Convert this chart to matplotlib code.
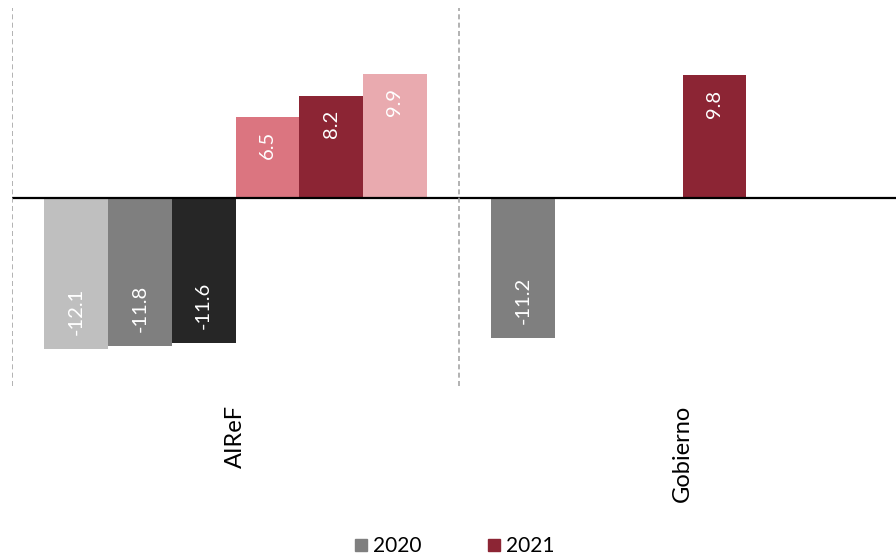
"""
Clustered bars: AIReF vs Gobierno estimates for 2020 and 2021.
"""

import matplotlib.pyplot as plt
from matplotlib.lines import Line2D

plt.rcParams["font.family"] = ["Lato", "DejaVu Sans"]

groups = ["AIReF", "Gobierno"]

# six series slots per group; None means no bar in that slot
series_values = [
    [-12.1, -11.2],   # 2020, escenario 1 / Gobierno
    [-11.8, None],    # 2020, escenario 2
    [-11.6, None],    # 2020, escenario 3
    [6.5, 9.8],       # 2021, escenario 1 / Gobierno
    [8.2, None],      # 2021, escenario 2
    [9.9, None],      # 2021, escenario 3
]
series_colors = [
    ["#BFBFBF", "#7F7F7F"],
    ["#7F7F7F", None],
    ["#262626", None],
    ["#DB7580", "#8C2534"],
    ["#8C2534", None],
    ["#E9AAAF", None],
]
legend_labels = ["2020", "2021"]
legend_colors = ["#7F7F7F", "#8C2534"]

fig = plt.figure(figsize=(8.96, 5.56), dpi=100)
ax = fig.add_axes([12 / 896, 1 - 385.5 / 556, 1 - 12 / 896, 377.5 / 556])

width = 0.1425
for k, (vals, cols) in enumerate(zip(series_values, series_colors)):
    for g, (v, c) in enumerate(zip(vals, cols)):
        if v is None:
            continue
        x = g + (k - 2.5) * width
        ax.bar(x, v, width=width, color=c, linewidth=0)
        off = 10 if v < 0 else -10
        ax.annotate(f"{v:.1f}", (x, v), xytext=(0, off),
                    textcoords="offset points", rotation=90,
                    ha="center", va="bottom" if v < 0 else "top",
                    color="white", fontsize=14.5)

ax.axhline(0, color="black", linewidth=1.6)
for xs in [-0.5, 0.5, 1.5]:
    ax.axvline(xs, color="#A6A6A6", linestyle=(0, (3, 2)), linewidth=1.2)

ax.set_xlim(-0.5, 0.5 + 437 / 447)
ax.set_ylim(-15, 15.2)
ax.axis("off")

for g, name in enumerate(groups):
    ax.annotate(name, (g, -15), xytext=(0, -14), textcoords="offset points",
                rotation=90, ha="center", va="top", fontsize=17)

handles = [Line2D([], [], marker="s", linestyle="none", markersize=8,
                  markerfacecolor=c, markeredgecolor=c) for c in legend_colors]
fig.legend(handles, legend_labels, loc="center", bbox_to_anchor=(0.505, 0.018),
           ncol=2, frameon=False, fontsize=15, handletextpad=0.05,
           columnspacing=3.0, handlelength=1.0)

fig.savefig("out.png", dpi=100)
